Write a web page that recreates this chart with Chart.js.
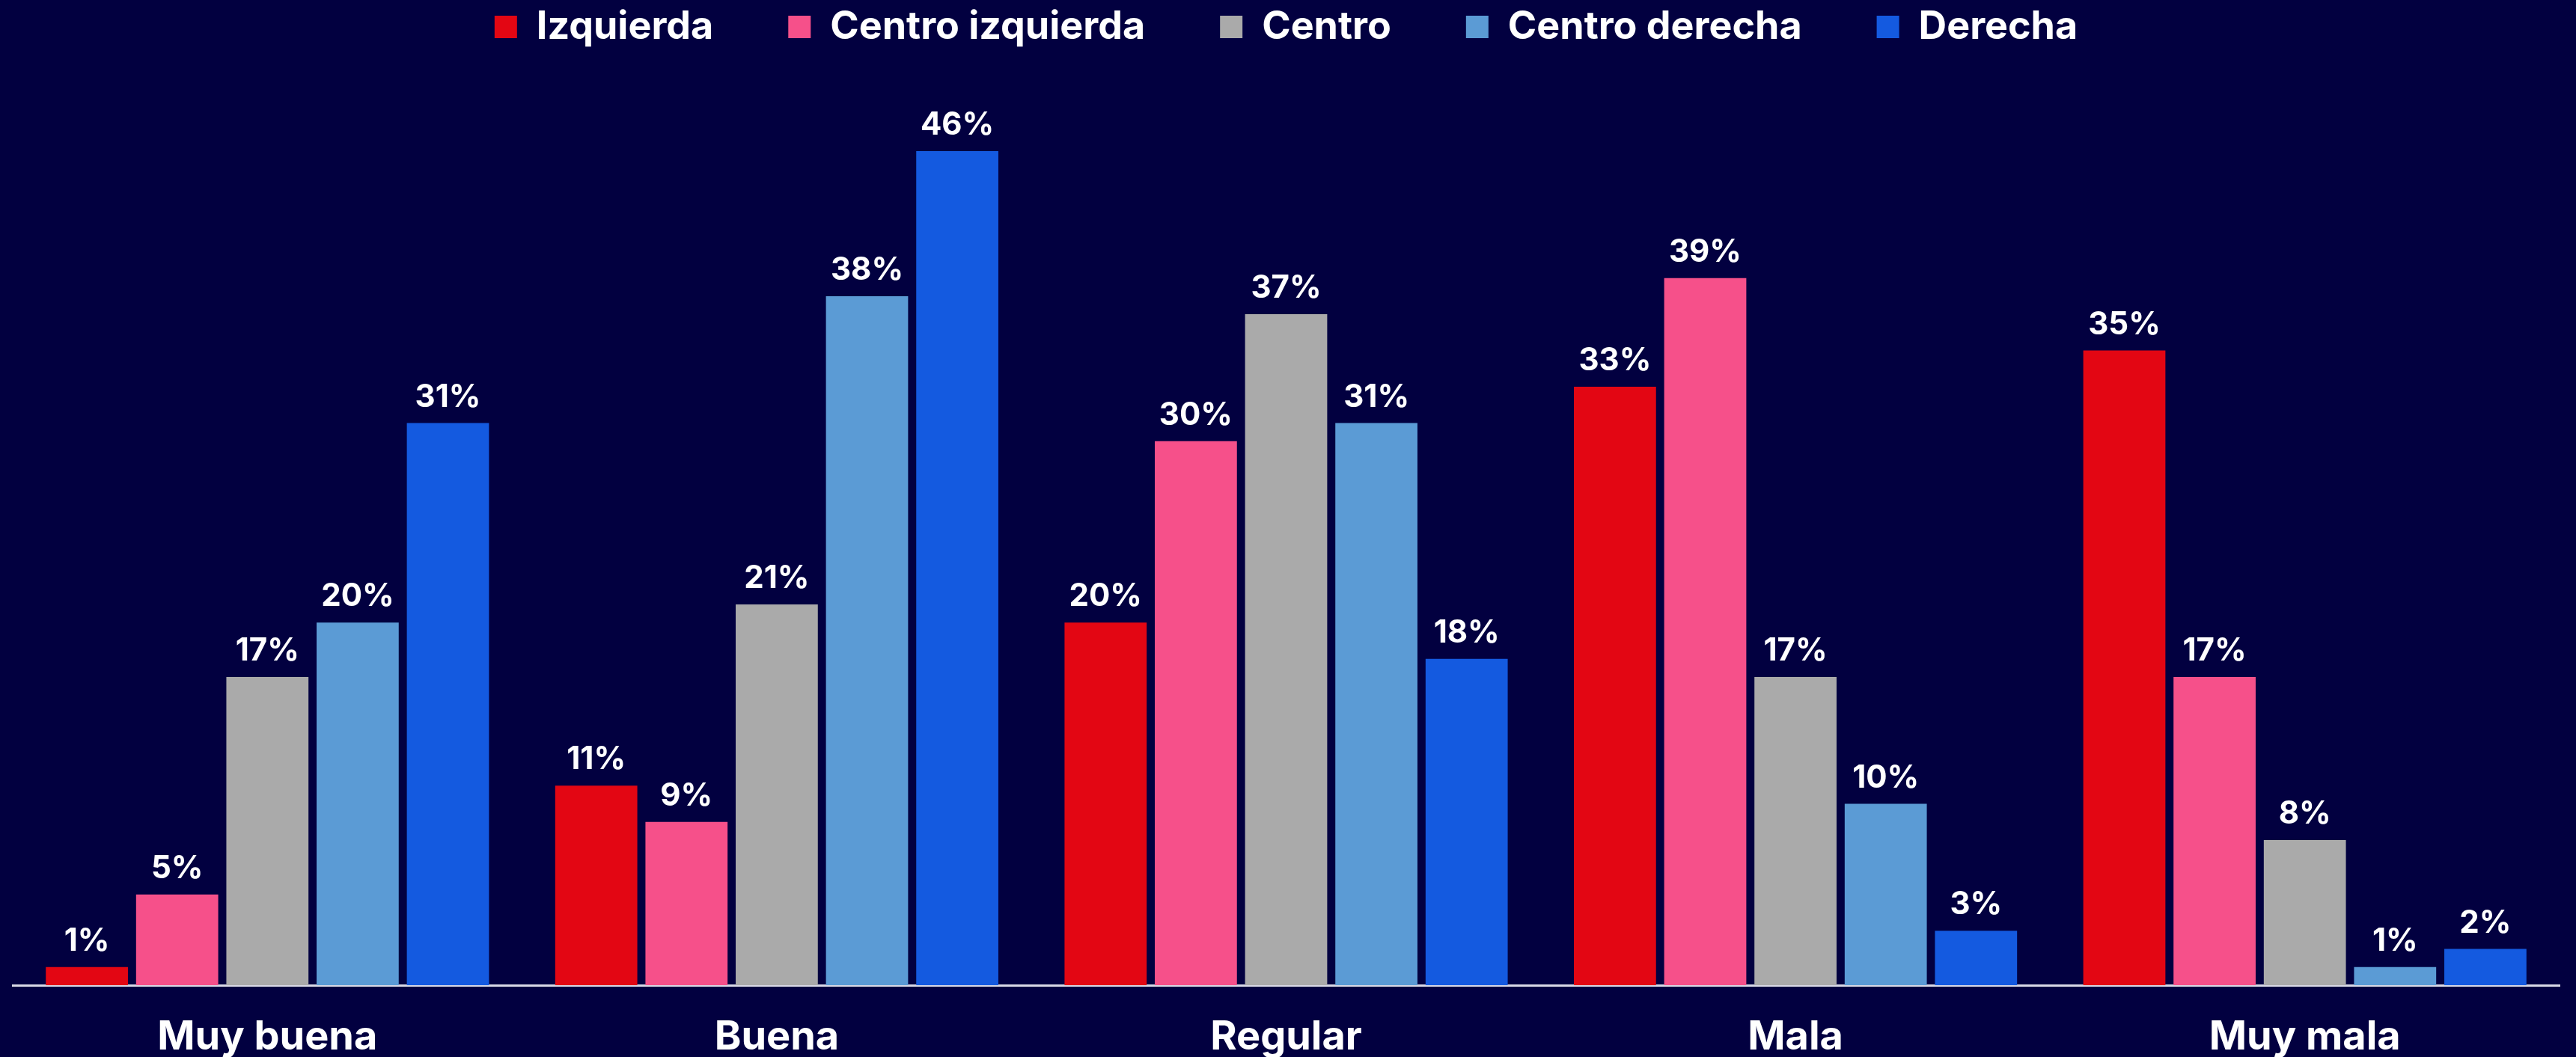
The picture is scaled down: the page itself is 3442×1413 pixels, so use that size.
<!DOCTYPE html>
<html>
<head>
<meta charset="utf-8">
<script src="https://cdn.jsdelivr.net/npm/chart.js@4.4.1/dist/chart.umd.min.js"></script>
<style>
  html, body { margin: 0; padding: 0; background: #020040; overflow: hidden; }
  #wrap { position: relative; width: 3442px; height: 1440px; }
</style>
</head>
<body>
<div id="wrap"><canvas id="c"></canvas></div>
<script>
const categories = ["Muy buena", "Buena", "Regular", "Mala", "Muy mala"];
const seriesNames = ["Izquierda", "Centro izquierda", "Centro", "Centro derecha", "Derecha"];
const izquierda = [1, 11, 20, 33, 35];
const centroIzquierda = [5, 9, 30, 39, 17];
const centro = [17, 21, 37, 17, 8];
const centroDerecha = [20, 38, 31, 10, 1];
const derecha = [31, 46, 18, 3, 2];
const seriesColors = ["#e30613", "#f6508a", "#aaaaaa", "#5b9bd5", "#145ae0"];

const FONT = "Inter, 'Open Sans', sans-serif";
const LEGEND_PAD = 100;

const valueLabels = {
  id: 'valueLabels',
  afterDatasetsDraw(chart) {
    const ctx = chart.ctx;
    ctx.save();
    ctx.fillStyle = '#ffffff';
    ctx.font = `700 42px ${FONT}`;
    ctx.textAlign = 'center';
    ctx.textBaseline = 'alphabetic';
    chart.data.datasets.forEach((ds, i) => {
      const meta = chart.getDatasetMeta(i);
      meta.data.forEach((bar, j) => {
        ctx.fillText(ds.data[j] + '%', bar.x, bar.y - 22);
      });
    });
    ctx.restore();
  }
};

const legendTweak = {
  id: 'legendTweak',
  beforeInit(chart) {
    const lg = chart.legend;
    const origFit = lg.fit;
    lg.fit = function () {
      origFit.call(this);
      this.height = 105;
    };
    const origDraw = lg.draw;
    lg.draw = function () {
      const t = this.top;
      this.top = t - (LEGEND_PAD - 10);
      origDraw.apply(this, arguments);
      this.top = t;
    };
  }
};

const allSeries = [izquierda, centroIzquierda, centro, centroDerecha, derecha];

new Chart(document.getElementById('c'), {
  type: 'bar',
  data: {
    labels: categories,
    datasets: allSeries.map((d, i) => ({
      label: seriesNames[i],
      data: d,
      backgroundColor: seriesColors[i],
      borderWidth: 0,
      categoryPercentage: 0.886,
      barPercentage: 0.91
    }))
  },
  options: {
    responsive: true,
    maintainAspectRatio: false,
    animation: false,
    devicePixelRatio: 1,
    layout: { padding: { left: 17, right: 22, top: 0, bottom: 0 } },
    plugins: {
      legend: {
        position: 'top',
        labels: {
          color: '#ffffff',
          font: { family: FONT, size: 52, weight: '700' },
          boxWidth: 30,
          boxHeight: 30,
          padding: LEGEND_PAD
        }
      },
      tooltip: { enabled: false }
    },
    scales: {
      x: {
        grid: { display: false, drawTicks: false },
        border: { display: true, color: '#d9d9e6', width: 3 },
        ticks: {
          color: '#ffffff',
          font: { family: FONT, size: 54, weight: '700' },
          padding: 37
        },
        afterFit(axis) { axis.height = 1440 - 1317; }
      },
      y: {
        display: false,
        min: 0,
        max: 50
      }
    }
  },
  plugins: [valueLabels, legendTweak]
});
</script>
</body>
</html>
